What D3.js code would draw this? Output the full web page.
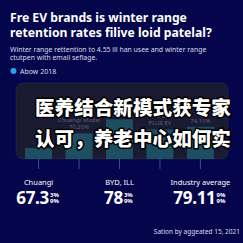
<!DOCTYPE html>
<html>
<head>
<meta charset="utf-8">
<script src="https://cdn.jsdelivr.net/npm/d3@7"></script>
<style>
  html, body { margin: 0; padding: 0; background: #04054a; }
  svg { display: block; }
</style>
</head>
<body>
<div id="chart"></div>
<script>
// --- data ---
const titleLines = ["Fre EV brands is winter range", "retention rates filive loid patelal?"];
const subtitleLines = ["Winter range rettention to 4.55 ill han usee and winter range", "ctutpen with email sefiage."];
const legendLabel = "Abow 2018";

const barKeys = ["b1", "b2", "b3", "b4", "b5"];
const barValues = [61.5, 70.2, 78.5, 72.5, 74.1];
const barLabels = [[], ["Chuangi Model", "70.20%"], [], ["BYD DM", "PLUS EV"], ["74.10%"]];

const statNames = ["Chuangi", "BYD, ILL", "Industry average"];
const statMain = ["67.3", "78", "79.11"];
const statSupTop = ["3%", "3%", "9%"];
const statSupBottom = ["9%", "9%", "9%"];
const statCenters = ["b1", "b3", "b5"];

const overlayLines = ["医养结合新模式获专家", "认可，养老中心如何实"];
const footer = "Sation by aggeated 15, 2021";

// --- setup ---
const width = 243, height = 243;
const font = "'Noto Sans', 'Open Sans', sans-serif";

const svg = d3.select('#chart').append('svg')
    .attr('width', width).attr('height', height);

svg.append('rect').attr('width', width).attr('height', height).attr('fill', '#04054a');

// title
svg.append('g').selectAll('text')
    .data(titleLines)
    .join('text')
    .attr('x', 10).attr('y', (d, i) => 22 + i * 15)
    .attr('fill', '#ffffff')
    .style('font-family', font).style('font-weight', 700).style('font-size', '12.2px')
    .text(d => d);

svg.append('g').selectAll('text')
    .data(subtitleLines)
    .join('text')
    .attr('x', 10).attr('y', (d, i) => 52 + i * 8)
    .attr('fill', '#d8dcf0')
    .style('font-family', font).style('font-size', '6.9px')
    .text(d => d);

// legend
svg.append('circle').attr('cx', 13.5).attr('cy', 71).attr('r', 3).attr('fill', '#29a3ea');
svg.append('text').attr('x', 20).attr('y', 73.5)
    .attr('fill', '#d8dcf0')
    .style('font-family', font).style('font-size', '7px')
    .text(legendLabel);

// --- bar panel ---
const panel = { x: 16, y: 83, w: 212, h: 76 };
const baseY = panel.y + panel.h;

const scaleX = d3.scaleBand(barKeys, [17, 222]).paddingInner(0.333).paddingOuter(0.2);
const scaleY = d3.scaleLinear([55, 100], [baseY, panel.y]);

const clip = svg.append('clipPath').attr('id', 'panelClip');
clip.append('rect')
    .attr('x', panel.x).attr('y', panel.y).attr('width', panel.w).attr('height', panel.h)
    .attr('rx', 7);

svg.append('rect')
    .attr('x', panel.x).attr('y', panel.y).attr('width', panel.w).attr('height', panel.h)
    .attr('rx', 7)
    .attr('fill', '#1a1b32')
    .attr('stroke', '#2a2c48').attr('stroke-width', 0.6);

const barG = svg.append('g').attr('clip-path', 'url(#panelClip)');
barG.selectAll('rect')
    .data(barKeys)
    .join('rect')
    .attr('x', d => scaleX(d))
    .attr('y', (d, i) => scaleY(barValues[i]))
    .attr('width', scaleX.bandwidth())
    .attr('height', (d, i) => baseY - scaleY(barValues[i]))
    .attr('fill', '#1d4e62');

// faint labels above bars
barKeys.forEach((k, i) => {
    const lines = barLabels[i];
    lines.forEach((t, j) => {
        svg.append('text')
            .attr('x', scaleX(k) + scaleX.bandwidth() / 2)
            .attr('y', scaleY(barValues[i]) - 4 - (lines.length - 1 - j) * 7)
            .attr('text-anchor', 'middle')
            .attr('fill', '#56607a')
            .style('font-family', font).style('font-size', '6px')
            .text(t);
    });
});

// ticks under panel
const axisX = d3.axisBottom(scaleX).tickSize(10).tickFormat('');
const axisG = svg.append('g').attr('transform', `translate(0,${baseY})`).call(axisX);
axisG.select('.domain').remove();
axisG.selectAll('line').attr('stroke', '#3864ad').attr('stroke-width', 0.8);

// --- stats ---
const statG = svg.append('g').selectAll('g')
    .data(statNames)
    .join('g')
    .attr('transform', (d, i) => `translate(${scaleX(statCenters[i]) + scaleX.bandwidth() / 2},0)`);

statG.append('text')
    .attr('y', 184.5)
    .attr('text-anchor', 'middle')
    .attr('fill', '#ffffff')
    .style('font-family', font).style('font-size', '7.5px')
    .text(d => d);

statG.each(function (d, i) {
    const g = d3.select(this);
    const main = g.append('text')
        .attr('y', 203.5)
        .attr('fill', '#ffffff')
        .style('font-family', font).style('font-weight', 700).style('font-size', '17px')
        .style('letter-spacing', '-0.3px')
        .text(statMain[i]);
    const mw = main.node().getComputedTextLength();
    const sw = 11;
    const x0 = -(mw + sw + 1) / 2;
    main.attr('x', x0);
    g.append('text').attr('x', x0 + mw + 1).attr('y', 196.5)
        .attr('fill', '#ffffff')
        .style('font-family', font).style('font-weight', 700).style('font-size', '6px')
        .text(statSupTop[i]);
    g.append('text').attr('x', x0 + mw + 1).attr('y', 203)
        .attr('fill', '#ffffff')
        .style('font-family', font).style('font-weight', 700).style('font-size', '6px')
        .text(statSupBottom[i]);
});

// footer
svg.append('text')
    .attr('x', 240).attr('y', 234)
    .attr('text-anchor', 'end')
    .attr('fill', '#d8dcf0')
    .style('font-family', font).style('font-size', '6.5px')
    .text(footer);

// overlay caption
svg.append('g').selectAll('text')
    .data(overlayLines)
    .join('text')
    .attr('x', 35).attr('y', (d, i) => 115 + i * 31)
    .attr('fill', '#ffffff')
    .attr('stroke', '#000000').attr('stroke-width', 3).attr('stroke-linejoin', 'round')
    .attr('paint-order', 'stroke')
    .style('font-family', "'Noto Sans CJK SC', sans-serif").style('font-weight', 900).style('font-size', '19.6px')
    .text(d => d);
</script>
</body>
</html>
